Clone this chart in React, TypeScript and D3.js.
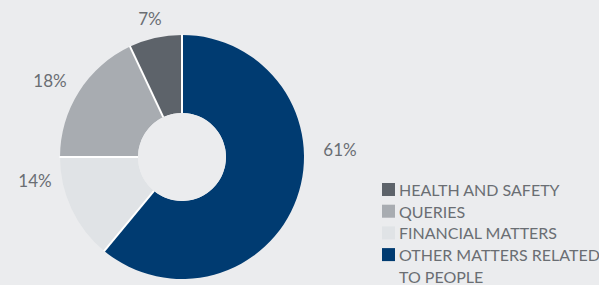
import React, { useEffect, useRef } from "react";
import * as d3 from "d3";

const categories = ["OTHER MATTERS RELATED TO PEOPLE", "FINANCIAL MATTERS", "QUERIES", "HEALTH AND SAFETY"];
const shares = [61, 14, 18, 7];
const colors = ["#003b71", "#e0e3e6", "#a8acb1", "#5d636a"];
// legend is listed in the reverse order of the pie
const legendOrder = [3, 2, 1, 0];

const W = 599;
const H = 285;

const App = () => {
    const ref = useRef<SVGGElement>(null);

    useEffect(() => {
        const root = d3.select(ref.current);
        root.selectAll("*").remove();

        const cx = 182, cy = 157;
        const outerR = 122, innerR = 44;

        const pie = d3.pie<number>().sort(null).value(d => d);
        const arcs = pie(shares);
        const arc = d3.arc<d3.PieArcDatum<number>>().innerRadius(innerR).outerRadius(outerR);

        const g = root.append("g").attr("transform", `translate(${cx},${cy})`);

        g.selectAll("path")
            .data(arcs)
            .enter().append("path")
                .attr("d", arc)
                .attr("fill", (d, i) => colors[i]);

        // thin white separators between slices
        g.selectAll("line.sep")
            .data(arcs)
            .enter().append("line")
                .attr("class", "sep")
                .attr("x1", d => innerR * Math.sin(d.startAngle))
                .attr("y1", d => -innerR * Math.cos(d.startAngle))
                .attr("x2", d => (outerR + 0.5) * Math.sin(d.startAngle))
                .attr("y2", d => -(outerR + 0.5) * Math.cos(d.startAngle))
                .attr("stroke", "#ffffff")
                .attr("stroke-width", 2);

        // hole
        g.append("circle").attr("r", innerR).attr("fill", "#ebecee");

        // percentage labels, nudged by hand around the ring
        const labelOffset = [
            { dx: 158, dy: -8 },
            { dx: -147, dy: 23 },
            { dx: -132, dy: -77 },
            { dx: -32, dy: -139 },
        ];
        g.selectAll("text.pct")
            .data(arcs)
            .enter().append("text")
                .attr("class", "pct")
                .attr("x", (d, i) => labelOffset[i].dx)
                .attr("y", (d, i) => labelOffset[i].dy)
                .attr("text-anchor", "middle")
                .attr("dominant-baseline", "central")
                .attr("font-family", "Lato, sans-serif")
                .attr("font-size", 17)
                .attr("fill", "#6a6e73")
                .text(d => `${d.data}%`);

        // legend
        const legend = root.append("g").attr("transform", "translate(382,183)");
        const rowH = 21.7;
        const rows = legend.selectAll("g")
            .data(legendOrder)
            .enter().append("g")
                .attr("transform", (d, i) => `translate(0,${i * rowH})`);

        rows.append("rect")
            .attr("width", 13)
            .attr("height", 13)
            .attr("fill", d => colors[d]);

        rows.append("text")
            .attr("x", 17)
            .attr("y", 13)
            .attr("font-family", "Lato, sans-serif")
            .attr("font-size", 16)
            .attr("fill", "#6a6e73")
            .each(function (d) {
                const t = d3.select(this);
                const label = categories[d];
                const parts = label === "OTHER MATTERS RELATED TO PEOPLE"
                    ? ["OTHER MATTERS RELATED", "TO PEOPLE"]
                    : [label];
                parts.forEach((p, k) => {
                    t.append("tspan").attr("x", 17).attr("dy", k === 0 ? 0 : rowH).text(p);
                });
            });
    }, []);

    return (
        <div>
            <svg width={W} height={H} style={{ position: "absolute", left: 0, top: 0 }}>
                <rect width={W} height={H} fill="#ebecee" />
                <g ref={ref} />
            </svg>
        </div>
    );
};

export default App;
